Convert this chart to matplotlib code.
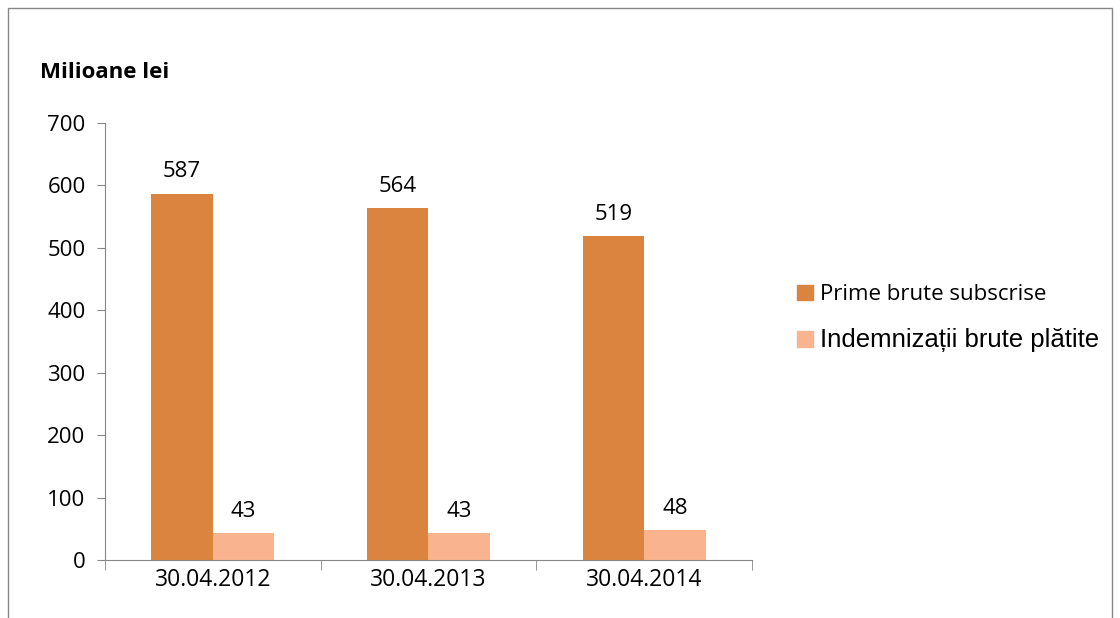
import numpy as np
import matplotlib
matplotlib.use("Agg")
import matplotlib.pyplot as plt
from matplotlib.patches import Rectangle

# date
categories = ["30.04.2012", "30.04.2013", "30.04.2014"]
prime = [587, 564, 519]
indemnizatii = [43, 43, 48]
series_names = ["Prime brute subscrise", "Indemnizații brute plătite"]
y_ticks = [0, 100, 200, 300, 400, 500, 600, 700]

c_prime = "#DA843F"
c_indem = "#F9B48F"
axis_gray = "#868686"

plt.rcParams['font.family'] = ['Open Sans', 'DejaVu Sans']

fig = plt.figure(figsize=(11.2, 6.18), dpi=100)
# chenar exterior
fig.patches.append(Rectangle((8 / 1120, -0.1), 1104 / 1120, 1.1 - 8 / 618,
                             transform=fig.transFigure, fill=False,
                             edgecolor=axis_gray, linewidth=1))

ax = fig.add_axes([105 / 1120, 1 - 560 / 618, (752 - 105) / 1120, (560 - 123) / 618])

x = np.arange(len(categories))
w = 0.285
b1 = ax.bar(x - w / 2, prime, w, color=c_prime, label=series_names[0])
b2 = ax.bar(x + w / 2, indemnizatii, w, color=c_indem, label=series_names[1])

for bars, vals in ((b1, prime), (b2, indemnizatii)):
    for r, v in zip(bars, vals):
        ax.annotate(str(v), (r.get_x() + r.get_width() / 2, v), xytext=(0, 8),
                    textcoords="offset points", ha="center", va="bottom", fontsize=16)

ax.set_xlim(-0.5, len(categories) - 0.5)
ax.set_ylim(0, 700)
ax.set_yticks(y_ticks)
ax.set_xticks(x)
ax.set_xticklabels(categories)
ax.set_xticks(np.arange(len(categories) + 1) - 0.5, minor=True)
ax.tick_params(axis="x", which="major", length=0, pad=6, labelsize=16.5)
ax.tick_params(axis="x", which="minor", length=7, color=axis_gray, direction="out")
ax.tick_params(axis="y", length=6, color=axis_gray, labelsize=16, pad=8)

for s in ("top", "right"):
    ax.spines[s].set_visible(False)
for s in ("left", "bottom"):
    ax.spines[s].set_color(axis_gray)

fig.text(40 / 1120, 1 - 72 / 618, "Milioane lei", fontsize=16, fontweight="bold",
         va="center", ha="left")

# legenda (a doua intrare are alt font, ca in original)
h1 = Rectangle((0, 0), 1, 1, color=c_prime)
h2 = Rectangle((0, 0), 1, 1, color=c_indem)
leg = fig.legend([h1, h2], series_names, loc="center left",
                 bbox_to_anchor=(777 / 1120, 1 - 318 / 618), frameon=False,
                 handlelength=0.7, handleheight=0.7, handletextpad=0.35,
                 labelspacing=1.0, fontsize=16)
t2 = leg.get_texts()[1]
t2.set_fontfamily("Liberation Sans")
t2.set_fontsize(18.5)

fig.savefig("out.png", dpi=100)
